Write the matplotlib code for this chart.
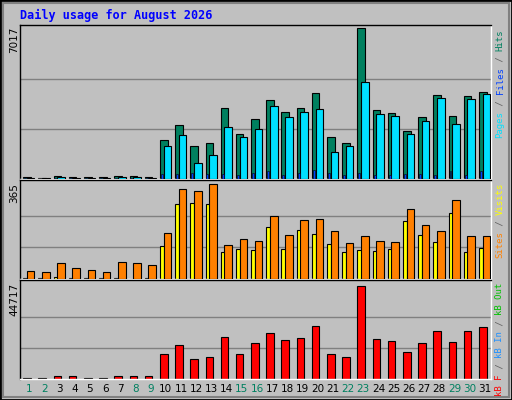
import matplotlib
matplotlib.use("Agg")
import matplotlib.pyplot as plt
from matplotlib.patches import Rectangle
import numpy as np

days = list(range(1, 32))
weekend = [1, 2, 8, 9, 15, 16, 22, 23, 29, 30]
hits = [95, 60, 150, 95, 95, 95, 150, 150, 95, 1802, 2520, 1515, 1659, 3285, 2089, 2807, 3668, 3142, 3285, 4003,
        1946, 1659, 7017, 3190, 3094, 2233, 2903, 3907, 2950, 3859, 4051]
files = [60, 40, 80, 60, 60, 60, 80, 90, 60, 1515, 2041, 750, 1132, 2424, 1946, 2328, 3381, 2903, 3142, 3237,
         1276, 1515, 4529, 3046, 2950, 2089, 2711, 3764, 2568, 3716, 3955]
pages = [40, 20, 50, 40, 40, 40, 50, 60, 40, 250, 250, 300, 250, 250, 200, 300, 350, 200, 300, 440,
         300, 200, 300, 200, 200, 250, 250, 200, 380, 200, 380]
visits = [4, 4, 8, 4, 4, 4, 4, 0, 4, 127, 286, 290, 286, 103, 115, 111, 198, 115, 186, 171,
          135, 103, 111, 107, 115, 222, 167, 143, 254, 103, 119]
sites = [32, 28, 60, 44, 36, 28, 67, 63, 52, 175, 345, 337, 365, 131, 155, 147, 242, 167, 226, 230,
         183, 139, 163, 147, 143, 270, 206, 183, 302, 163, 163]
kbytes = [650, 650, 1300, 1300, 650, 650, 1630, 1300, 1630, 11900, 16300, 9460, 10400, 20200, 11900, 17300,
          22200, 18800, 19800, 25600, 11900, 10400, 44717, 19300, 18300, 12900, 17300, 23200, 17800, 23200, 25100]

BG = "#C0C0C0"
W, H = 512, 400
fig = plt.figure(figsize=(5.12, 4.0), dpi=100, facecolor=BG)
mono = "DejaVu Sans Mono"

def ax_px(x0, y0, x1, y1):
    return fig.add_axes([x0 / W, 1 - y1 / H, (x1 - x0) / W, (y1 - y0) / H])

def style(ax):
    ax.set_facecolor(BG)
    ax.set_xlim(0, 31)
    ax.set_xticks([]); ax.set_yticks([])
    for s in ax.spines.values():
        s.set_color("black"); s.set_linewidth(1)
    ax.spines["bottom"].set_color("white"); ax.spines["right"].set_color("white")

x = np.array(days) - 1.0
ek = dict(edgecolor="black", linewidth=0.8, align="edge")

a1 = ax_px(20, 25, 491, 179)
style(a1)
m1 = max(hits)
a1.set_ylim(0, m1 * 1.022)
for g in (m1 / 3, 2 * m1 / 3):
    a1.axhline(g, color="#808080", lw=1, zorder=0)
a1.bar(x + 0.21, hits, 0.5, color="#00805F", zorder=2, **ek)
a1.bar(x + 0.45, files, 0.5, color="#00E0FF", zorder=3, **ek)
a1.bar(x + 0.27, pages, 0.13, color="#0040FF", zorder=4, edgecolor="black", linewidth=0.4, align="edge")

a2 = ax_px(20, 180, 491, 279)
style(a2)
m2 = max(sites)
a2.set_ylim(0, m2 * 1.04)
for g in (m2 / 3, 2 * m2 / 3):
    a2.axhline(g, color="#808080", lw=1, zorder=0)
a2.bar(x + 0.21, visits, 0.27, color="#FFFF00", zorder=2, **ek)
a2.bar(x + 0.45, sites, 0.5, color="#FF8000", zorder=3, **ek)

a3 = ax_px(20, 280, 491, 379)
style(a3)
m3 = max(kbytes)
a3.set_ylim(0, m3 * 1.07)
for g in (m3 / 3, 2 * m3 / 3):
    a3.axhline(g, color="#808080", lw=1, zorder=0)
a3.bar(x + 0.21, kbytes, 0.5, color="#FF0000", zorder=2, **ek)

for d in days:
    xp = 20 + (d - 1 + 0.6) * 471 / 31
    fig.text(xp / W, 1 - 389 / H, str(d), ha="center", va="center", fontsize=7.5,
             family="DejaVu Sans", color="#008060" if d in weekend else "black")

for lab, ytop in (("7017", 27), ("365", 183), ("44717", 283)):
    fig.text(14 / W, 1 - ytop / H, lab, rotation=90, ha="center", va="top", fontsize=7.5, family="DejaVu Sans")

fig.text(20 / W, 1 - 15 / H, "Daily usage for August 2026", color="#0000FF", fontsize=8.5,
         family=mono, fontweight="bold", va="center", ha="left")

def side(pieces, ytop, fs=6.5):
    cw = 0.602 * fs * 100 / 72
    N = sum(len(t) for t, _ in pieces)
    bottom = ytop + N * cw
    c = 0
    for t, col in pieces:
        yb = bottom - c * cw
        fig.text(500 / W, 1 - yb / H, t, rotation=90, rotation_mode="anchor", ha="left", va="center",
                 color=col, fontsize=fs, family=mono)
        c += len(t)

side([("Pages", "#00E0FF"), (" / ", "#606060"), ("Files", "#0040FF"), (" / ", "#606060"), ("Hits", "#00805F")], 29)
side([("Sites", "#FF8000"), (" / ", "#606060"), ("Visits", "#FFFF00")], 182)
side([("kB F", "#FF0000"), (" / ", "#606060"), ("kB In", "#1E90FF"), (" / ", "#606060"), ("kB Out", "#00C000")], 282)

fig.patches.append(Rectangle((0, 0), 1, 1, transform=fig.transFigure, fill=False, edgecolor="black", lw=2))
fig.patches.append(Rectangle((3 / W, 3 / H), 1 - 6 / W, 1 - 6 / H, transform=fig.transFigure, fill=False,
                             edgecolor="#808080", lw=1.5))

fig.savefig("out.png", dpi=100, facecolor=BG)
